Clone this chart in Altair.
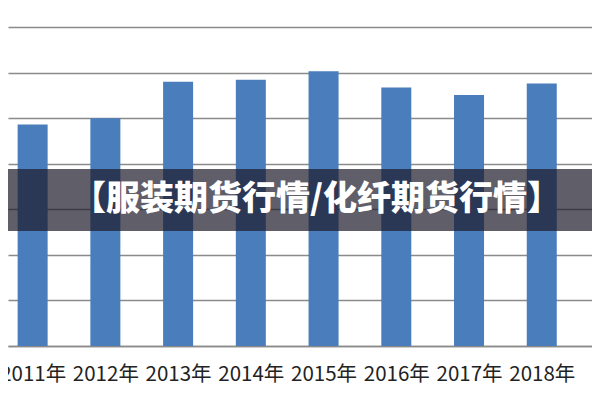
import altair as alt
import pandas as pd

years = [2011, 2012, 2013, 2014, 2015, 2016, 2017, 2018]
values = [4.86, 5.00, 5.80, 5.84, 6.03, 5.67, 5.51, 5.76]
grid_values = [0, 1, 2, 3, 4, 5, 6, 7]
title_text = "【服装期货行情/化纤期货行情】"

bars_df = pd.DataFrame({"year": years, "value": values})
banner_df = pd.DataFrame({"label": [title_text]})

W, H = 584, 338
x_scale = alt.Scale(domain=[2010.73, 2018.622], nice=False, zero=False)
y_scale = alt.Scale(domain=[0, 7.417], nice=False, zero=False)

bars = alt.Chart(bars_df).mark_bar(size=30, color="#4a7dbb", clip=True).encode(
    x=alt.X("year:Q", scale=x_scale,
            axis=alt.Axis(values=years, labelExpr="datum.value + '年'",
                          grid=False, ticks=False, tickSize=0, domain=True,
                          domainColor="#8a8a8a", domainWidth=1.6,
                          labelFont="Noto Sans CJK SC", labelFontSize=20.5,
                          labelColor="#222222", labelPadding=18,
                          labelOverlap=False, title=None)),
    y=alt.Y("value:Q", scale=y_scale,
            axis=alt.Axis(values=grid_values, grid=True, gridColor="#8a8a8a",
                          gridWidth=1.6, labels=False, ticks=False,
                          domain=False, title=None)),
    y2=alt.datum(0),
)

banner = alt.Chart(banner_df).mark_rect(color="#1c1a2a", opacity=0.7).encode(
    x=alt.value(-8), x2=alt.value(W + 8),
    y=alt.value(161), y2=alt.value(223),
)

text = alt.Chart(banner_df).mark_text(
    font="Noto Sans CJK SC", fontSize=34, fontWeight=900, color="white",
    align="center", baseline="middle",
).encode(
    x=alt.value(308.5), y=alt.value(192), text="label:N",
)

chart = alt.layer(bars, banner, text).properties(
    width=W, height=H,
    padding={"left": 0, "top": 0, "right": 0, "bottom": 46},
    autosize="none",
    background="white",
).configure_view(stroke="transparent", strokeWidth=0)

chart.save("out.html", embed_options={"renderer": "svg", "actions": False})
